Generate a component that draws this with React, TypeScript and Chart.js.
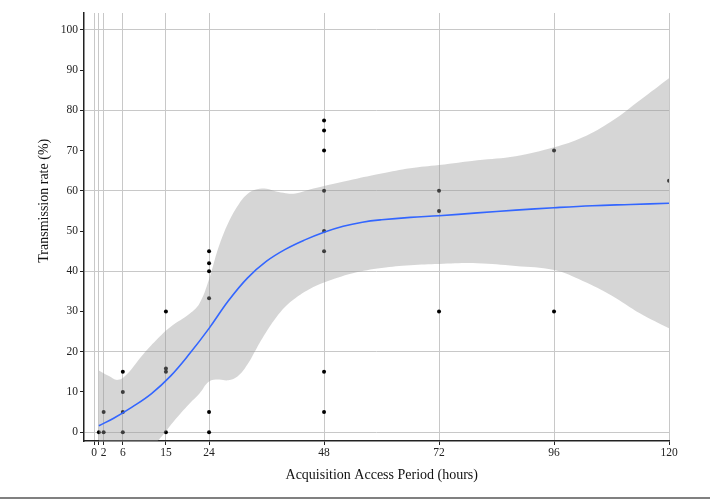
import React, { useEffect, useRef } from 'react';
import { Chart, registerables } from 'chart.js';

Chart.register(...registerables);

// Observed transmission rates
const obsHours = [1, 2, 2, 6, 6, 6, 6, 15, 15, 15, 15, 24, 24, 24, 24, 24, 24, 48, 48, 48, 48, 48, 48, 48, 48, 72, 72, 72, 96, 96, 120];
const obsRate = [0, 0, 5, 0, 5, 10, 15, 0, 15, 15.8, 30, 0, 5, 33.3, 40, 42, 45, 5, 15, 45, 50, 60, 70, 75, 77.5, 30, 55, 60, 30, 70, 62.5];

// Smoothed (loess) fit
const fitHours = [1, 4, 8, 12, 16, 20, 24, 28, 32, 36, 40, 44, 48, 52, 56, 60, 66, 72, 80, 88, 96, 104, 112, 120];
const fitRate = [1.6, 3.4, 6.3, 9.6, 14.0, 19.6, 25.8, 32.6, 38.3, 42.5, 45.5, 47.8, 49.7, 51.2, 52.2, 52.8, 53.4, 53.8, 54.5, 55.2, 55.8, 56.3, 56.6, 56.9];

// Confidence band - upper bound
const upperHours = [1, 3, 5, 7, 10, 13, 16, 20, 22, 24, 26, 28, 30, 32, 34, 36, 38, 40, 42, 45, 48, 54, 60, 66, 72, 80, 88, 96, 102, 108, 114, 120];
const upperRate = [15.3, 14, 13, 14.6, 19, 22.9, 26.2, 29.5, 32, 38, 46, 52, 56.3, 59.2, 60.4, 60.5, 59.8, 59.4, 59.3, 60.3, 61.2, 62.8, 64.3, 65.6, 66.4, 67.6, 68.6, 70.8, 73.3, 77.3, 82.6, 88];

// Confidence band - lower bound
const lowerHours = [1, 5, 9, 13, 14.5, 16, 18, 20, 22, 24, 26, 28, 30, 32, 34, 36, 38, 40, 42, 45, 48, 54, 60, 66, 72, 80, 88, 96, 102, 108, 114, 120];
const lowerRate = [-18, -12.5, -7, -2.5, -0.5, 1.8, 4.6, 7.2, 9.6, 12.6, 13.1, 12.9, 13.9, 16.8, 21, 25, 28.5, 31.3, 33.3, 35.6, 37.2, 39.5, 40.8, 41.5, 41.8, 42, 41.3, 40.3, 37.6, 34, 29.5, 25.8];

// Axis ticks
const xTicks = [0, 1, 2, 6, 15, 24, 48, 72, 96, 120];
const xLabelHidden = [1];
const yTicks = [0, 10, 20, 30, 40, 50, 60, 70, 80, 90, 100];

const toPts = (xs: number[], ys: number[]) => xs.map((x, i) => ({ x, y: ys[i] }));

export default function App() {
  const ref = useRef<HTMLCanvasElement | null>(null);

  useEffect(() => {
    document.body.style.margin = '0';
    const ctx = ref.current!.getContext('2d')!;
    const serif = "'Liberation Serif', 'Times New Roman', serif";
    const chart = new Chart(ctx, {
      type: 'line',
      data: {
        datasets: [
          {
            label: 'upper',
            data: toPts(upperHours, upperRate),
            borderWidth: 0,
            borderColor: 'rgba(0,0,0,0)',
            pointRadius: 0,
            backgroundColor: 'rgba(153,153,153,0.4)',
            fill: '+1',
            tension: 0.4,
            order: 5,
          },
          {
            label: 'lower',
            data: toPts(lowerHours, lowerRate),
            borderWidth: 0,
            borderColor: 'rgba(0,0,0,0)',
            pointRadius: 0,
            fill: false,
            tension: 0.4,
            order: 6,
          },
          {
            label: 'fit',
            data: toPts(fitHours, fitRate),
            borderColor: '#3366FF',
            borderWidth: 1.6,
            pointRadius: 0,
            fill: false,
            tension: 0.4,
            order: 1,
          },
          {
            label: 'observed',
            data: toPts(obsHours, obsRate),
            showLine: false,
            pointRadius: 2,
            pointBorderWidth: 0,
            pointBackgroundColor: '#000',
            pointBorderColor: '#000',
            fill: false,
            order: 10,
          },
        ],
      },
      options: {
        animation: false,
        responsive: true,
        maintainAspectRatio: false,
        layout: { padding: { left: 0, right: 41, top: 13, bottom: 0 } },
        plugins: {
          legend: { display: false },
          tooltip: { enabled: false },
        },
        scales: {
          x: {
            type: 'linear',
            min: -2.1,
            max: 120,
            afterBuildTicks: (s: any) => {
              s.ticks = xTicks.map((v) => ({ value: v }));
            },
            afterFit: (s: any) => {
              s.height = 62;
            },
            ticks: {
              autoSkip: false,
              maxRotation: 0,
              padding: 1,
              color: '#222',
              font: { family: serif, size: 11.5 },
              callback: (v: any) => (xLabelHidden.includes(Number(v)) ? '' : String(v)),
            },
            grid: {
              color: '#c8c8c8',
              lineWidth: 1,
              tickLength: 4,
              tickColor: '#222',
            },
            border: { display: true, color: '#222', width: 1.5 },
            title: {
              display: true,
              text: '   Acquisition Access Period (hours)',
              color: '#111',
              font: { family: serif, size: 14, lineHeight: 1.2 },
              padding: { top: 0, bottom: 19.6 },
            },
          },
          y: {
            type: 'linear',
            min: -2.2,
            max: 104.2,
            afterBuildTicks: (s: any) => {
              s.ticks = yTicks.map((v) => ({ value: v }));
            },
            afterFit: (s: any) => {
              s.width = 84;
            },
            ticks: {
              autoSkip: false,
              padding: 2,
              color: '#222',
              font: { family: serif, size: 11.5 },
            },
            grid: {
              color: (c: any) => (c.tick && c.tick.value % 20 === 0 ? '#c8c8c8' : 'rgba(0,0,0,0)'),
              lineWidth: 1,
              tickLength: 4,
              tickColor: '#222',
            },
            border: { display: true, color: '#222', width: 1.5 },
            title: {
              display: true,
              text: '               Transmission rate (%)',
              color: '#111',
              font: { family: serif, size: 14, lineHeight: 1.2 },
              padding: { top: 35.6, bottom: 0 },
            },
          },
        },
      },
    });
    return () => chart.destroy();
  }, []);

  return (
    <div style={{ position: 'fixed', left: 0, top: 0, width: 710, height: 503, background: '#fff' }}>
      <canvas ref={ref} />
      <div style={{ position: 'absolute', left: 0, top: 497, width: 710, height: 2, background: '#808080' }} />
    </div>
  );
}
